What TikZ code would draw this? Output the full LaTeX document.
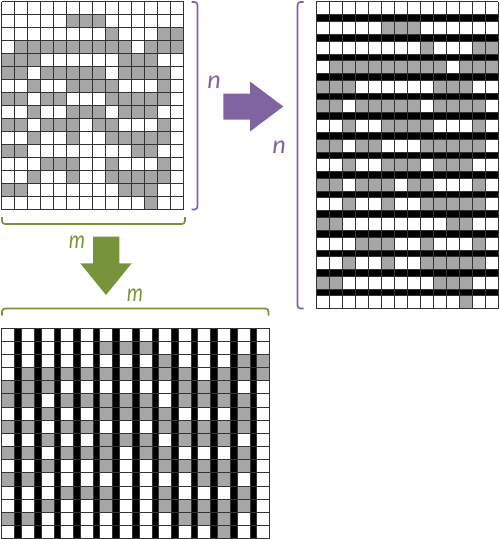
\documentclass[tikz,border=0pt]{standalone}
\usepackage{fontspec}
\newfontfamily\etiqfont{Carlito}
\definecolor{purpura}{RGB}{128,100,162}
\definecolor{verde}{RGB}{119,147,60}
\definecolor{celda}{RGB}{166,166,166}
% fila/columnas grises
\newcommand{\celdasgris}{1/{5,6,7},2/{8,12,13},3/{1,2,3,4,5,6,7,8,9,11,12,13},4/{0,1,2,9,10,11},5/{0,1,3,4,5,6,7,9,10,11,12},6/{2,5,6,7,8,12},7/{0,1,3,4,8,9,10,11,12},8/{2,5,6,7,9,10,11},9/{0,1,3,4,5,7,8,12},10/{2,5,8,9,10,11,12},11/{0,1,10,11},12/{3,4,5,8,12},13/{2,5,8,9,10,11,12},14/{0,1,9,10,11},15/{11}}

\begin{document}
\begin{tikzpicture}[x=1pt,y=-1pt,
  linea/.style={black!80, line width=0.7pt},
  corchete/.style={line width=1.7pt, rounded corners=3pt},
  etiqueta/.style={font=\etiqfont\itshape\fontsize{26}{26}\selectfont, inner sep=0pt}]
  \useasboundingbox (0,0) rectangle (500,539);

  % Rejilla original
  \begin{scope}[xshift=1.7pt, yshift=-1.7pt, x=13pt, y=-13pt]
    \foreach \r/\cols in \celdasgris {
      \foreach \c in \cols {
        \fill[celda] (\c,\r) rectangle ++(1,1);
      }
    }
    \foreach \c in {0,...,14} \draw[linea] (\c,0) -- (\c,16);
    \foreach \r in {0,...,16} \draw[linea] (0,\r) -- (14,\r);
  \end{scope}

  % Filas duplicadas
  \begin{scope}[xshift=316pt, yshift=-1.7pt, x=13pt, y=-19.6pt]
    \foreach \r/\cols in \celdasgris {
      \foreach \c in \cols {
        \fill[celda] (\c,\r) rectangle ++(1,0.663);
      }
    }
    \foreach \r in {0,...,14} \fill (0,\r+0.663) rectangle (14,\r+1);
    \foreach \c in {0,...,14} \draw[linea] (\c,0) -- (\c,15.663);
    \foreach \r in {0,...,15} \draw[linea] (0,\r) -- (14,\r) (0,\r+0.663) -- (14,\r+0.663);
  \end{scope}

  % Columnas duplicadas
  \begin{scope}[xshift=1.7pt, yshift=-328pt, x=19.6pt, y=-13.16pt]
    \foreach \r/\cols in \celdasgris {
      \foreach \c in \cols {
        \fill[celda] (\c,\r) rectangle ++(0.663,1);
      }
    }
    \foreach \c in {0,...,12} \fill (\c+0.663,0) rectangle (\c+1,16);
    \foreach \r in {0,...,16} \draw[linea] (0,\r) -- (13.663,\r);
    \foreach \c in {0,...,13} \draw[linea] (\c,0) -- (\c,16) (\c+0.663,0) -- (\c+0.663,16);
  \end{scope}

  % Corchetes
  \draw[corchete, purpura] (191.5,2) -- (197.5,2) -- (197.5,209.5) -- (191.5,209.5);
  \draw[corchete, purpura] (303.5,2) -- (297.5,2) -- (297.5,308.5) -- (303.5,308.5);
  \draw[corchete, verde] (2,217) -- (2,224) -- (185,224) -- (185,217);
  \draw[corchete, verde] (2,315.5) -- (2,308.5) -- (268.5,308.5) -- (268.5,315.5);

  % Flechas
  \fill[purpura] (223.3,93.5) -- (250,93.5) -- (250,81.5) -- (283.3,106.5)
    -- (250,131.5) -- (250,119.5) -- (223.3,119.5) -- cycle;
  \fill[verde] (93,236.7) -- (119.3,236.7) -- (119.3,263.3) -- (131.7,263.3)
    -- (106,295) -- (80.3,263.3) -- (93,263.3) -- cycle;

  % Etiquetas
  \node[etiqueta, purpura] (n1) at (214,82) {n};
  \node[etiqueta, purpura] (n2) at (279,147) {n};
  \node[etiqueta, verde] (m1) at (77,242) {\scalebox{0.78}[1]{m}};
  \node[etiqueta, verde] (m2) at (135,295) {\scalebox{0.78}[1]{m}};
\end{tikzpicture}
\end{document}
